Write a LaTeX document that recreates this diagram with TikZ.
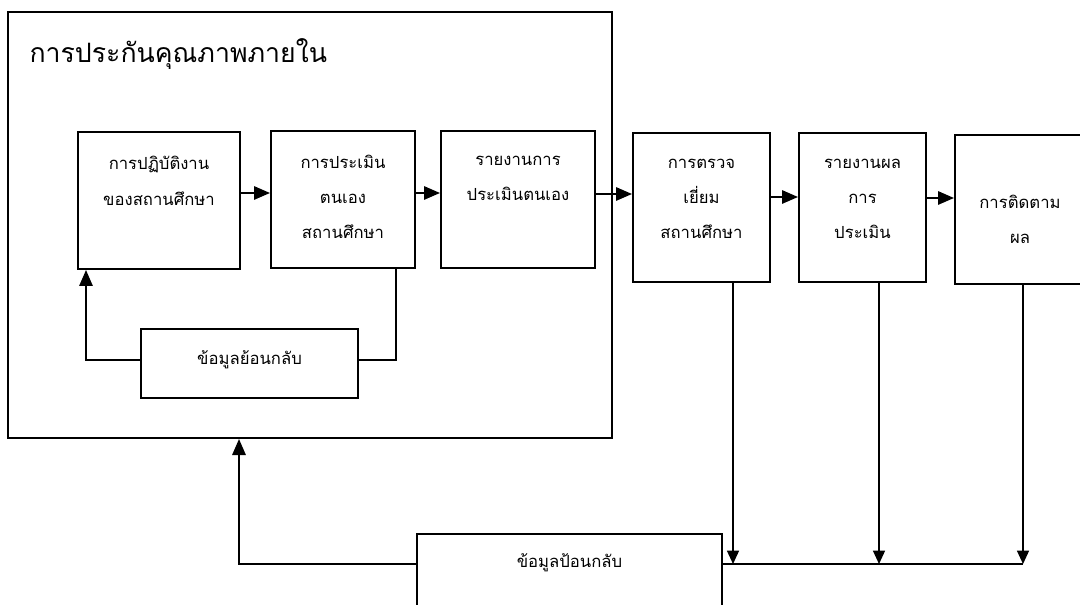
\documentclass[tikz,border=0pt]{standalone}
\usepackage{fontspec}
\newfontfamily\thaifont[Script=Thai]{Loma}
\usetikzlibrary{arrows.meta,positioning}

\tikzset{every picture/.style={line width=0.75pt}}
\tikzset{
  blk/.style={draw, rectangle, line width=1.5pt, inner sep=0pt},
  txt/.style={align=center, inner sep=0.75pt, font=\thaifont\fontsize{12.5}{26.5}\selectfont},
  flow/.style={line width=1.5pt, -{Triangle[length=12pt,width=10pt]}},
  feed/.style={line width=1pt, -{Triangle[length=10pt,width=9pt]}},
}

\begin{document}
\begin{tikzpicture}[x=0.75pt,y=0.75pt,yscale=-1,xscale=1]
\useasboundingbox (0,0) rectangle (1080,605);
\clip (0,0) rectangle (1080,605);

%Shape: Rectangle [internal QA]
\node [blk, minimum width=453pt, minimum height=319.5pt] (qa) at (310,225) {};
% Text Node
\node [anchor=base west, inner sep=0.75pt, font=\thaifont\fontsize{20}{24}\selectfont] (title) at (28,63) {การประกันคุณภาพภายใน};

%Shape: Rectangle [practice]
\node [blk, minimum width=121.5pt, minimum height=102.75pt] (pract) at (159,200.5) {};
\node [txt] (pract-t) at (159,181) {การปฏิบัติงาน\\ของสถานศึกษา};
%Shape: Rectangle [self evaluation]
\node [blk, minimum width=108pt, minimum height=102.75pt] (selfev) at (343,199.5) {};
\node [txt] (selfev-t) at (343,197) {การประเมิน\\ตนเอง\\สถานศึกษา};
%Shape: Rectangle [self report]
\node [blk, minimum width=115.5pt, minimum height=102.75pt] (sar) at (518,199.5) {};
\node [txt] (sar-t) at (518,178.5) {รายงานการ\\ประเมินตนเอง};
%Shape: Rectangle [inner feedback]
\node [blk, minimum width=162.75pt, minimum height=51.75pt] (fbin) at (249.5,363.5) {};
\node [txt] (fbin-t) at (249.5,360) {ข้อมูลย้อนกลับ};

%Shape: Rectangle [visit]
\node [blk, minimum width=102.75pt, minimum height=111.75pt] (visit) at (701.5,207.5) {};
\node [txt] (visit-t) at (701.5,199) {การตรวจ\\เยี่ยม\\สถานศึกษา};
%Shape: Rectangle [result report]
\node [blk, minimum width=95.25pt, minimum height=111.75pt] (rep) at (862.5,207.5) {};
\node [txt] (rep-t) at (862.5,199) {รายงานผล\\การ\\ประเมิน};
%Shape: Rectangle [follow up]
\node [blk, minimum width=97.5pt, minimum height=111.75pt] (follow) at (1020,209.5) {};
\node [txt] (follow-t) at (1020,219.5) {การติดตาม\\ผล};

%Shape: Rectangle [outer feedback]
\node [blk, minimum width=228.75pt, minimum height=79.5pt] (fbout) at (569.5,587) {};
\node [txt] (fbout-t) at (569.5,563) {ข้อมูลป้อนกลับ};

%Straight Lines [main flow]
\draw [flow] (pract.east |- 0,193) -- (selfev.west |- 0,193);
\draw [flow] (selfev.east |- 0,193) -- (sar.west |- 0,193);
\draw [flow] (sar.east |- 0,194) -- (visit.west |- 0,194);
\draw [flow] (visit.east |- 0,197) -- (rep.west |- 0,197);
\draw [flow] (rep.east |- 0,198) -- (follow.west |- 0,198);

%Straight Lines [inner loop]
\draw [line width=1.5pt] (selfev.south -| 396,0) |- (fbin.east |- fbin-t);
\draw [flow] (fbin.west |- fbin-t) -| (pract.south -| 86,0);

%Straight Lines [outer loop]
\coordinate (busR) at (1023,564);
\draw [line width=1.5pt] (fbout.east |- busR) -- (busR);
\draw [feed] (visit.south -| 733,0) -- (busR -| 733,0);
\draw [feed] (rep.south -| 879,0) -- (busR -| 879,0);
\draw [feed] (follow.south -| busR) -- (busR);
\draw [flow] (fbout.west |- busR) -| (qa.south -| 239,0);

\end{tikzpicture}
\end{document}
